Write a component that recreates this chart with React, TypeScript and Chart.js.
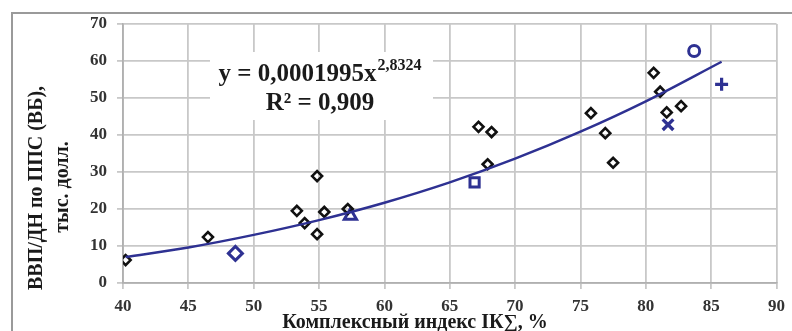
import React, { useEffect, useRef } from "react";
import { Chart, registerables } from "chart.js";
Chart.register(...registerables);

const xTicks = [40, 45, 50, 55, 60, 65, 70, 75, 80, 85, 90];
const yTicks = [0, 10, 20, 30, 40, 50, 60, 70];

// black diamonds: countries
const countryX = [40.2, 46.5, 53.3, 53.9, 54.85, 54.85, 55.4, 57.2, 67.2, 68.2, 67.9, 75.8, 76.9, 77.5, 80.6, 81.1, 81.6, 82.7];
const countryY = [6.2, 12.4, 19.5, 16.2, 28.9, 13.2, 19.2, 20.0, 42.2, 40.8, 32.1, 45.9, 40.5, 32.5, 56.8, 51.7, 46.1, 47.8];

// highlighted (blue) markers
const blueDiamond = [{ x: 48.6, y: 8.0 }];
const blueTriangle = [{ x: 57.4, y: 18.2 }];
const blueSquare = [{ x: 66.9, y: 27.2 }];
const blueCircle = [{ x: 83.7, y: 62.7 }];
const blueCrossRot = [{ x: 81.7, y: 42.8 }];
const bluePlus = [{ x: 85.8, y: 53.7 }];

// trend line points
const trendX = [40.2, 45, 50, 55, 60, 65, 70, 75, 80, 85.8];
const trendY = [7.0, 9.6, 13.0, 17.0, 21.7, 27.2, 33.6, 40.9, 49.1, 59.8];

const eqMain = "y = 0,0001995x";
const eqSup = "2,8324";
const eqR2 = "R² = 0,909";
const yTitle1 = "ВВП/ДН по ППС (ВБ),";
const yTitle2 = "тыс. долл.";
const xTitle = "Комплексный индекс IК∑, %";

const BLUE = "#2e3192";
const SERIF = '"Liberation Serif", "Times New Roman", serif';

const overlay = {
  id: "overlay",
  beforeDatasetsDraw(chart: any) {
    const ctx = chart.ctx;
    ctx.save();
    // white equation box
    ctx.fillStyle = "#ffffff";
    ctx.fillRect(210, 52, 223, 68);
    ctx.fillStyle = "#1a1a1a";
    ctx.textBaseline = "middle";
    ctx.font = `bold 25px ${SERIF}`;
    const mainW = ctx.measureText(eqMain).width;
    ctx.font = `bold 16px ${SERIF}`;
    const supW = ctx.measureText(eqSup).width;
    const total = mainW + supW + 1;
    const cx = 320;
    const x0 = cx - total / 2;
    ctx.textAlign = "left";
    ctx.font = `bold 25px ${SERIF}`;
    ctx.fillText(eqMain, x0, 75);
    ctx.font = `bold 16px ${SERIF}`;
    ctx.fillText(eqSup, x0 + mainW + 1, 66);
    ctx.font = `bold 25px ${SERIF}`;
    ctx.textAlign = "center";
    ctx.fillText(eqR2, cx, 104);
    ctx.restore();
  },
  afterDraw(chart: any) {
    const ctx = chart.ctx;
    ctx.save();
    // frame
    ctx.strokeStyle = "#9a9a9a";
    ctx.lineWidth = 2;
    ctx.beginPath();
    ctx.moveTo(12, 340);
    ctx.lineTo(12, 13);
    ctx.lineTo(800, 13);
    ctx.stroke();
    // y title
    ctx.fillStyle = "#1a1a1a";
    ctx.font = `bold 20px ${SERIF}`;
    ctx.textAlign = "center";
    ctx.textBaseline = "middle";
    ctx.save();
    ctx.translate(37, 188);
    ctx.rotate(-Math.PI / 2);
    ctx.fillText(yTitle1, 0, 0);
    ctx.restore();
    ctx.save();
    ctx.translate(63, 187);
    ctx.rotate(-Math.PI / 2);
    ctx.fillText(yTitle2, 0, 0);
    ctx.restore();
    // x title
    ctx.font = `bold 20px ${SERIF}`;
    ctx.fillText(xTitle, 415, 323);
    ctx.restore();
  },
};

export default function App() {
  const ref = useRef<HTMLCanvasElement | null>(null);
  useEffect(() => {
    document.body.style.margin = "0";
    if (!ref.current) return;
    const mk = (data: any[], style: string, r: number, bw: number) => ({
      type: "scatter" as const,
      data,
      pointStyle: style,
      pointRadius: r,
      pointBorderWidth: bw,
      borderColor: BLUE,
      backgroundColor: "rgba(255,255,255,0)",
      showLine: false,
    });
    const chart = new Chart(ref.current, {
      type: "scatter",
      data: {
        datasets: [
          {
            type: "line",
            data: trendX.map((x, i) => ({ x, y: trendY[i] })),
            borderColor: BLUE,
            borderWidth: 2.5,
            pointRadius: 0,
            cubicInterpolationMode: "monotone",
            fill: false,
          } as any,
          {
            data: countryX.map((x, i) => ({ x, y: countryY[i] })),
            pointStyle: "rectRot",
            pointRadius: 5,
            pointBorderWidth: 2.6,
            borderColor: "#111111",
            backgroundColor: "rgba(255,255,255,0)",
          },
          mk(blueDiamond, "rectRot", 7, 3),
          mk(blueTriangle, "triangle", 7, 3),
          mk(blueSquare, "rect", 6.5, 3),
          mk(blueCircle, "circle", 5.5, 3),
          mk(blueCrossRot, "crossRot", 7.5, 3.4),
          mk(bluePlus, "cross", 6.5, 3.2),
        ],
      },
      plugins: [overlay],
      options: {
        animation: false,
        responsive: false,
        maintainAspectRatio: false,
        layout: { padding: { top: 24, right: 9, left: 0, bottom: 0 } },
        plugins: { legend: { display: false }, tooltip: { enabled: false } },
        scales: {
          x: {
            type: "linear",
            min: 40,
            max: 90,
            afterBuildTicks: (s: any) => {
              s.ticks = xTicks.map((v) => ({ value: v }));
            },
            afterFit: (s: any) => {
              s.height = 48;
            },
            grid: { color: "#c8c8c8", lineWidth: 1.8, tickLength: 6 },
            border: { color: "#b0b0b0", width: 1.8 },
            ticks: {
              color: "#333333",
              font: { family: SERIF, size: 17, weight: "bold" },
              padding: 7,
              maxRotation: 0,
            },
          },
          y: {
            type: "linear",
            min: 0,
            max: 70,
            afterBuildTicks: (s: any) => {
              s.ticks = yTicks.map((v) => ({ value: v }));
            },
            afterFit: (s: any) => {
              s.width = 123;
            },
            grid: { color: "#c8c8c8", lineWidth: 1.8, tickLength: 6 },
            border: { color: "#b0b0b0", width: 1.8 },
            ticks: {
              color: "#333333",
              font: { family: SERIF, size: 17, weight: "bold" },
              padding: 10,
            },
          },
        },
      } as any,
    });
    return () => chart.destroy();
  }, []);
  return (
    <div style={{ width: 792, height: 331 }}>
      <canvas ref={ref} width={792} height={331} style={{ display: "block" }} />
    </div>
  );
}
